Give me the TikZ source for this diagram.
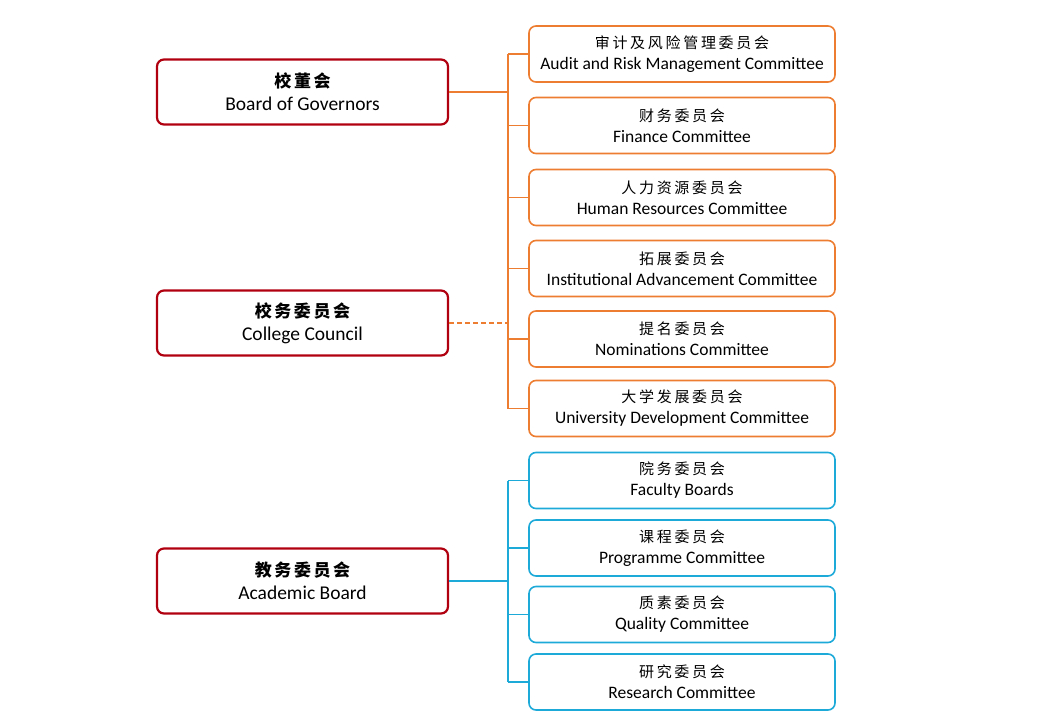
\documentclass[tikz,border=0pt]{standalone}
\usepackage{fontspec}
\setmainfont{Carlito}
\newfontfamily\cjk{Noto Sans CJK SC}
\definecolor{dred}{HTML}{B00010}
\definecolor{org}{HTML}{ED7D31}
\definecolor{blu}{HTML}{1EAAD9}
\begin{document}
\begin{tikzpicture}[x=1pt,y=-1pt,
 lbox/.style={draw=dred,line width=2.2pt,rounded corners=7pt,minimum width=291pt,minimum height=65pt,align=center,font=\fontsize{19.5}{23}\selectfont,inner sep=0pt},
 rbox/.style={draw=#1,line width=1.6pt,rounded corners=7pt,minimum width=306pt,minimum height=56pt,align=center,font=\fontsize{17.5}{21}\selectfont,inner sep=0pt},
 ol/.style={org,line width=1.6pt},
 bl/.style={blu,line width=1.6pt}]
\useasboundingbox (0,0) rectangle (1040,720);
\node[lbox] (bog) at (302.5,92) {{\cjk\addfontfeature{LetterSpace=15}\fontsize{17}{21}\selectfont\bfseries 校董会}\\Board of Governors};
\node[lbox] (cc) at (302.5,323) {{\cjk\addfontfeature{LetterSpace=15}\fontsize{17}{21}\selectfont\bfseries 校务委员会}\\College Council};
\node[lbox] (ab) at (302.5,581) {{\cjk\addfontfeature{LetterSpace=15}\fontsize{17}{21}\selectfont\bfseries 教务委员会}\\Academic Board};
\foreach \n/\y/\c/\e in {o1/54/审计及风险管理委员会/Audit and Risk Management Committee,
 o2/125.5/财务委员会/Finance Committee,
 o3/197.5/人力资源委员会/Human Resources Committee,
 o4/268.5/拓展委员会/Institutional Advancement Committee,
 o5/339/提名委员会/Nominations Committee,
 o6/408.5/大学发展委员会/University Development Committee}
 {\node[rbox=org] (\n) at (682,\y) {{\cjk\addfontfeature{LetterSpace=18}\fontsize{15}{19}\selectfont \c}\\\e};}
\foreach \n/\y/\c/\e in {b1/480.5/院务委员会/Faculty Boards,
 b2/548/课程委员会/Programme Committee,
 b3/614.5/质素委员会/Quality Committee,
 b4/682/研究委员会/Research Committee}
 {\node[rbox=blu] (\n) at (682,\y) {{\cjk\addfontfeature{LetterSpace=18}\fontsize{15}{19}\selectfont \c}\\\e};}
\coordinate (ot) at (508,54);
\coordinate (ob) at (508,408.5);
\draw[ol] (ot) -- (ob);
\foreach \n in {o1,o2,o3,o4,o5,o6} \draw[ol] (508,0 |- \n.west) -- (\n.west);
\draw[ol] (bog.east) -- (bog.east -| ot);
\draw[ol,dashed,dash pattern=on 5pt off 3pt] (cc.east) -- (cc.east -| ot);
\coordinate (bt) at (508,480.5);
\coordinate (bb) at (508,682);
\draw[bl] (bt) -- (bb);
\foreach \n in {b1,b2,b3,b4} \draw[bl] (508,0 |- \n.west) -- (\n.west);
\draw[bl] (ab.east) -- (ab.east -| bt);
\end{tikzpicture}
\end{document}
